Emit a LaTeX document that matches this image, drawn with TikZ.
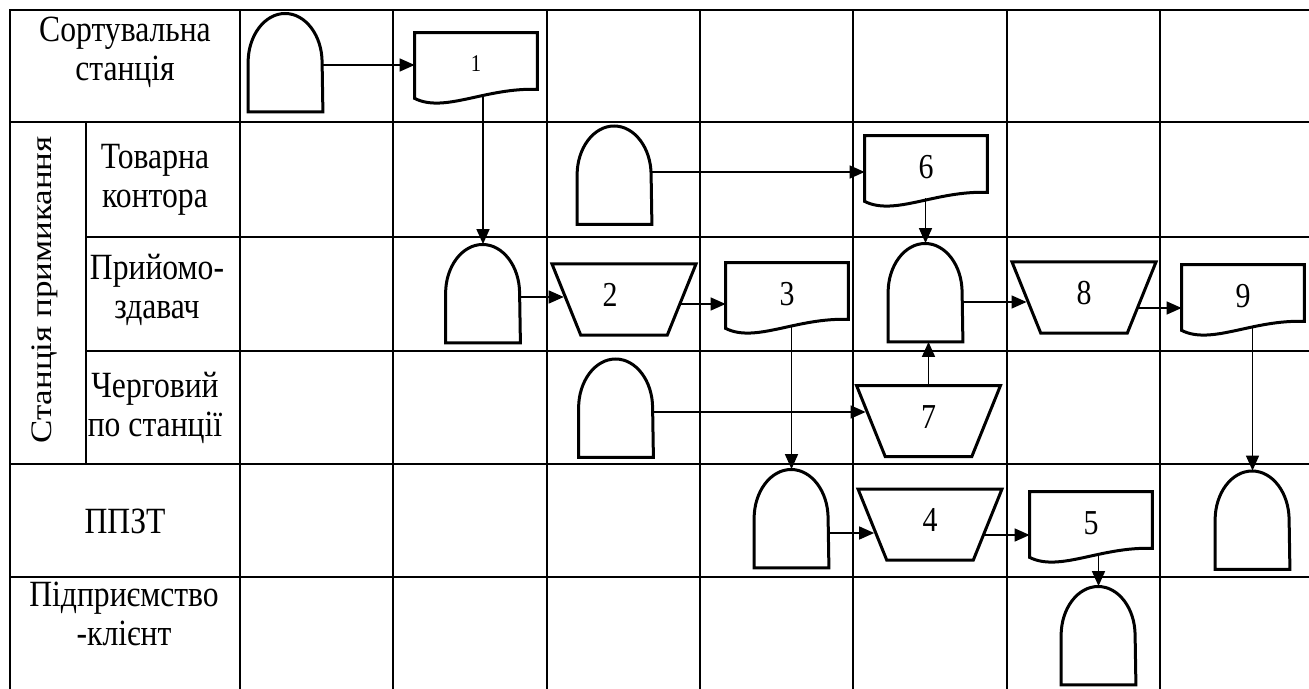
\documentclass[tikz,border=0pt]{standalone}
\usepackage{fontspec}
\setmainfont{Liberation Serif}[FakeStretch=0.855]
\newfontfamily\sidefont{Liberation Serif}
\usetikzlibrary{arrows.meta, shapes.geometric, calc}

\begin{document}
\begin{tikzpicture}[
        x=0.5pt,
        y=0.5pt,
        grid/.style={
            line width=1pt,
            line cap=rect
        },
        shapeline/.style={
            line width=1.5pt,
            line join=miter
        },
        archbox/.style={
            minimum width=37pt,
            minimum height=49pt,
            inner sep=0pt
        },
        docbox/.style={
            minimum width=61pt,
            minimum height=31pt,
            inner sep=0pt,
            font=\fontsize{17.5}{17.5}\selectfont
        },
        trapbox/.style={
            trapezium,
            draw,
            shapeline,
            shape border rotate=180,
            trapezium angle=68,
            trapezium stretches body,
            minimum width=72pt,
            text height=11pt,
            text depth=4pt,
            inner xsep=0pt,
            inner ysep=10.25pt,
            font=\fontsize{17.5}{17.5}\selectfont
        },
        flow/.style={
            -{Triangle[length=7.5pt, width=6.5pt]},
            line width=0.75pt
        },
        lane/.style={
            align=center,
            font=\fontsize{18.5}{19.5}\selectfont
        }
    ]

        \useasboundingbox (0,0) rectangle (1309,-689);

        % ---------------------------------------------------------------------
        % Table grid
        % ---------------------------------------------------------------------

        \draw[grid] (10,-10) -- (1309,-10);
        \draw[grid] (10,-122) -- (1309,-122);
        \draw[grid] (86,-237) -- (1309,-237);
        \draw[grid] (86,-351) -- (1309,-351);
        \draw[grid] (10,-464) -- (1309,-464);
        \draw[grid] (10,-577) -- (1309,-577);
        \draw[grid] (10,-10) -- (10,-689);
        \draw[grid] (86,-122) -- (86,-464);
        \foreach \x in {240,393,547,700,853,1007,1160}
            \draw[grid] (\x,-10) -- (\x,-689);

        % ---------------------------------------------------------------------
        % Lane titles
        % ---------------------------------------------------------------------

        \node[lane] (sort) at (125,-52) {Сортувальна\\станція};
        \node[lane] (office) at (155,-180) {Товарна\\контора};
        \node[lane] (receiver) at (157,-290) {Прийомо-\\здавач};
        \node[lane] (duty) at (155,-408) {Черговий\\по станції};
        \node[lane] (ppzt) at (125,-521) {ППЗТ};
        \node[lane] (client) at (124,-614) {Підприємство\\-клієнт};

        \node[
            font=\sidefont\fontsize{17.5}{17.5}\selectfont,
            rotate=90,
            yscale=0.85
        ] (station) at (45,-290) {Станція примикання};

        % ---------------------------------------------------------------------
        % Operations and documents
        % ---------------------------------------------------------------------

        \node[archbox] (arch1) at (285.5,-62.5) {};
        \node[docbox, font=\fontsize{12}{12}\selectfont] (doc1) at (476,-64) {1};

        \node[archbox] (arch2) at (614.5,-175) {};
        \node[docbox] (doc6) at (926,-167) {6};

        \node[archbox] (arch3) at (483,-293.5) {};
        \node[trapbox] (trap2) at (624,-299.5) {2\kern14pt};
        \node[docbox] (doc3) at (787,-294) {3};
        \node[archbox] (arch4) at (925.5,-292.5) {};
        \node[trapbox] (trap8) at (1084,-297.5) {8};
        \node[docbox] (doc9) at (1243,-296) {9};

        \node[archbox] (arch5) at (616,-408) {};
        \node[trapbox] (trap7) at (928.5,-421) {7};

        \node[archbox] (arch6) at (791.5,-518.5) {};
        \node[trapbox] (trap4) at (930,-524.5) {4};
        \node[docbox] (doc5) at (1091,-523) {5};
        \node[archbox] (arch7) at (1252.5,-520) {};

        \node[archbox] (arch8) at (1098.5,-635.5) {};

        % outlines of the arch boxes
        \foreach \i in {1,...,8}
            \draw[shapeline] (arch\i.south west) -- (arch\i.west)
                arc[start angle=180, end angle=0, x radius=18.5pt, y radius=24.5pt]
                -- (arch\i.south east) -- cycle;

        % outlines of the documents
        \foreach \n in {doc1,doc6,doc3,doc9,doc5}
            \draw[shapeline] (\n.north west) -- (\n.north east)
                -- ([yshift=3pt]\n.south east)
                .. controls +(-26pt,1pt) and +(15pt,-7.5pt) ..
                ([yshift=-1.5pt]\n.south west) -- cycle;

        % ---------------------------------------------------------------------
        % Flow of the documents
        % ---------------------------------------------------------------------

        \draw[flow] ([yshift=-1.25pt]arch1.east)
            -- ($(arch1.east -| doc1.west)+(0,-1.25pt)$);
        \draw[flow] (doc1.south -| arch3.north) -- (arch3.north);

        \draw[flow] ([yshift=1.5pt]arch2.east)
            -- ($(arch2.east -| doc6.west)+(0,1.5pt)$);
        \draw[flow] (doc6.south -| arch4.north) -- (arch4.north);

        \draw[flow] ([yshift=-1.75pt]arch3.east)
            -- ($(arch3.east -| trap2.west)+(-0.5pt,-1.75pt)$);
        \draw[flow] ([xshift=-0.9pt, yshift=-2.25pt]trap2.east)
            -- ($(trap2.east -| doc3.west)+(0,-2.25pt)$);
        \draw[flow] (doc3.south -| arch6.north) -- (arch6.north);

        \draw[flow] ([yshift=-4.75pt]arch4.east)
            -- ($(arch4.east -| trap8.west)+(0.9pt,-4.75pt)$);
        \draw[flow] ([xshift=-2.1pt, yshift=-5.25pt]trap8.east)
            -- ($(trap8.east -| doc9.west)+(0,-5.25pt)$);
        \draw[flow] (doc9.south -| arch7.north) -- (arch7.north);

        \draw[flow] ([yshift=-2pt]arch5.east)
            -- ($(arch5.east -| trap7.west)+(-1.8pt,-2pt)$);
        \draw[flow] (trap7.north) -- (trap7.north |- arch4.south);

        \draw[flow] ([yshift=-7.25pt]arch6.east)
            -- ($(arch6.east -| trap4.west)+(1.7pt,-7.25pt)$);
        \draw[flow] ([xshift=-2.1pt, yshift=-5.25pt]trap4.east)
            -- ($(trap4.east -| doc5.west)+(0,-5.25pt)$);
        \draw[flow] (doc5.south -| arch8.north) -- (arch8.north);

    \end{tikzpicture}
\end{document}
